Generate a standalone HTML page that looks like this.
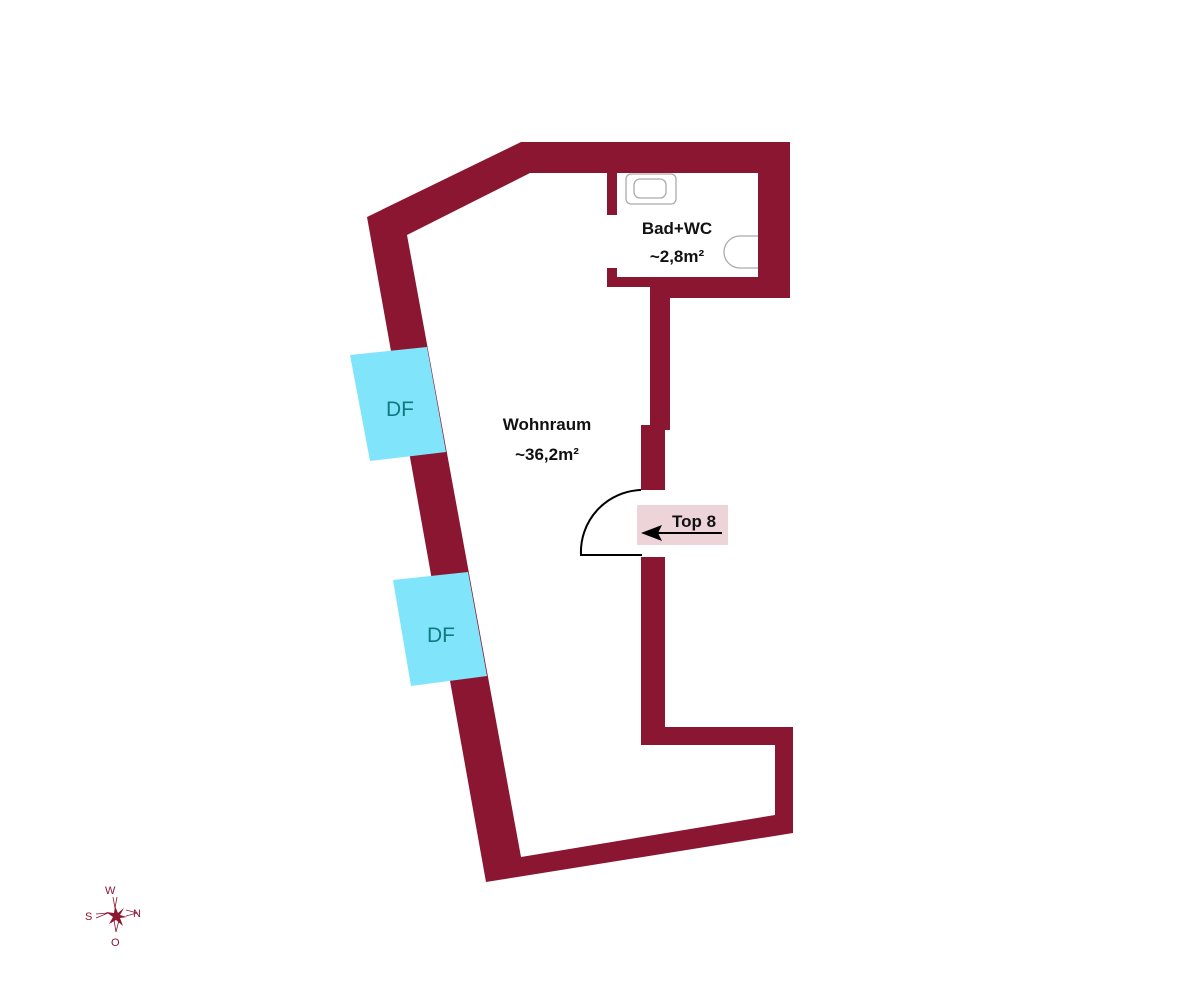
<!DOCTYPE html>
<html><head><meta charset="utf-8"><style>
html,body{margin:0;padding:0;background:#fff}
svg{display:block}
text{font-family:"Liberation Sans",sans-serif}
</style></head><body>
<svg width="1200" height="1000" viewBox="0 0 1200 1000" xmlns="http://www.w3.org/2000/svg">
<g fill="#8b1631">
<polygon points="367,217 521,142 790,142 790,298 670,298 670,425 665,425 665,727 793,727 793,833 486,882"/>
</g>
<polygon fill="#fff" points="407,235 530,173 758,173 758,277 641,277 641,745 775,745 775,815 521,857"/>
<g fill="#8b1631">
<rect x="607" y="277" width="45" height="10"/>
<rect x="641" y="277" width="30" height="21"/>
<rect x="641" y="425" width="24" height="65"/>
<rect x="641" y="557" width="24" height="188"/>
<rect x="607" y="173" width="10" height="42"/>
<rect x="607" y="268" width="10" height="19"/>
</g>
<rect x="641" y="287" width="9" height="138" fill="#fff"/>
<rect x="650" y="287" width="20" height="143" fill="#8b1631"/>
<rect x="641" y="490" width="26" height="67" fill="#fff"/>
<!-- windows -->
<polygon fill="#80e5fb" points="350,355 427,347 446,452 370,461"/>
<polygon fill="#80e5fb" points="393,580 468,572 487,676 411,686"/>
<text x="400" y="416" font-size="21" fill="#0f7a80" text-anchor="middle">DF</text>
<text x="441" y="642" font-size="21" fill="#0f7a80" text-anchor="middle">DF</text>
<!-- sink & toilet -->
<rect x="626" y="174" width="50" height="30" rx="5" fill="none" stroke="#aaa" stroke-width="1.3"/>
<rect x="634" y="179" width="32" height="19" rx="6" fill="none" stroke="#aaa" stroke-width="1.3"/>
<path d="M758,236 H740 A16,16 0 0 0 740,268 H758" fill="none" stroke="#aaa" stroke-width="1.3"/>
<!-- labels -->
<text x="677" y="234" font-size="17" font-weight="bold" text-anchor="middle" fill="#111">Bad+WC</text>
<text x="677" y="262" font-size="17" font-weight="bold" text-anchor="middle" fill="#111">~2,8m²</text>
<text x="547" y="430" font-size="17" font-weight="bold" text-anchor="middle" fill="#111">Wohnraum</text>
<text x="547" y="460" font-size="17" font-weight="bold" text-anchor="middle" fill="#111">~36,2m²</text>
<!-- door -->
<path d="M641,490 A62,62 0 0 0 581,555 H642" fill="none" stroke="#000" stroke-width="2"/>
<rect x="637" y="505" width="91" height="40" fill="#ecd4d8"/>
<text x="694" y="527" font-size="17" font-weight="bold" text-anchor="middle" fill="#111">Top 8</text>
<line x1="722" y1="533" x2="655" y2="533" stroke="#000" stroke-width="2"/>
<polygon points="641,533 662,525 658,533 662,541" fill="#000"/>
<!-- compass -->
<g fill="#8b1631" font-family="Liberation Serif,serif" font-size="11">
<text x="105" y="894">W</text>
<text x="85" y="920">S</text>
<text x="133" y="917">N</text>
<text x="111" y="946">O</text>
<polygon points="115,906 118,913 124,908 120,915 127,917 120,918 123,926 116,920 109,924 113,917 106,912 114,913"/>
<path d="M113,897 L115,908 L117,897 M96,914 L108,913 L96,918 M126,910 L137,913 L126,916 M114,920 L116,932 L119,920" fill="none" stroke="#8b1631" stroke-width="0.8"/>
</g>
</svg>
</body></html>
